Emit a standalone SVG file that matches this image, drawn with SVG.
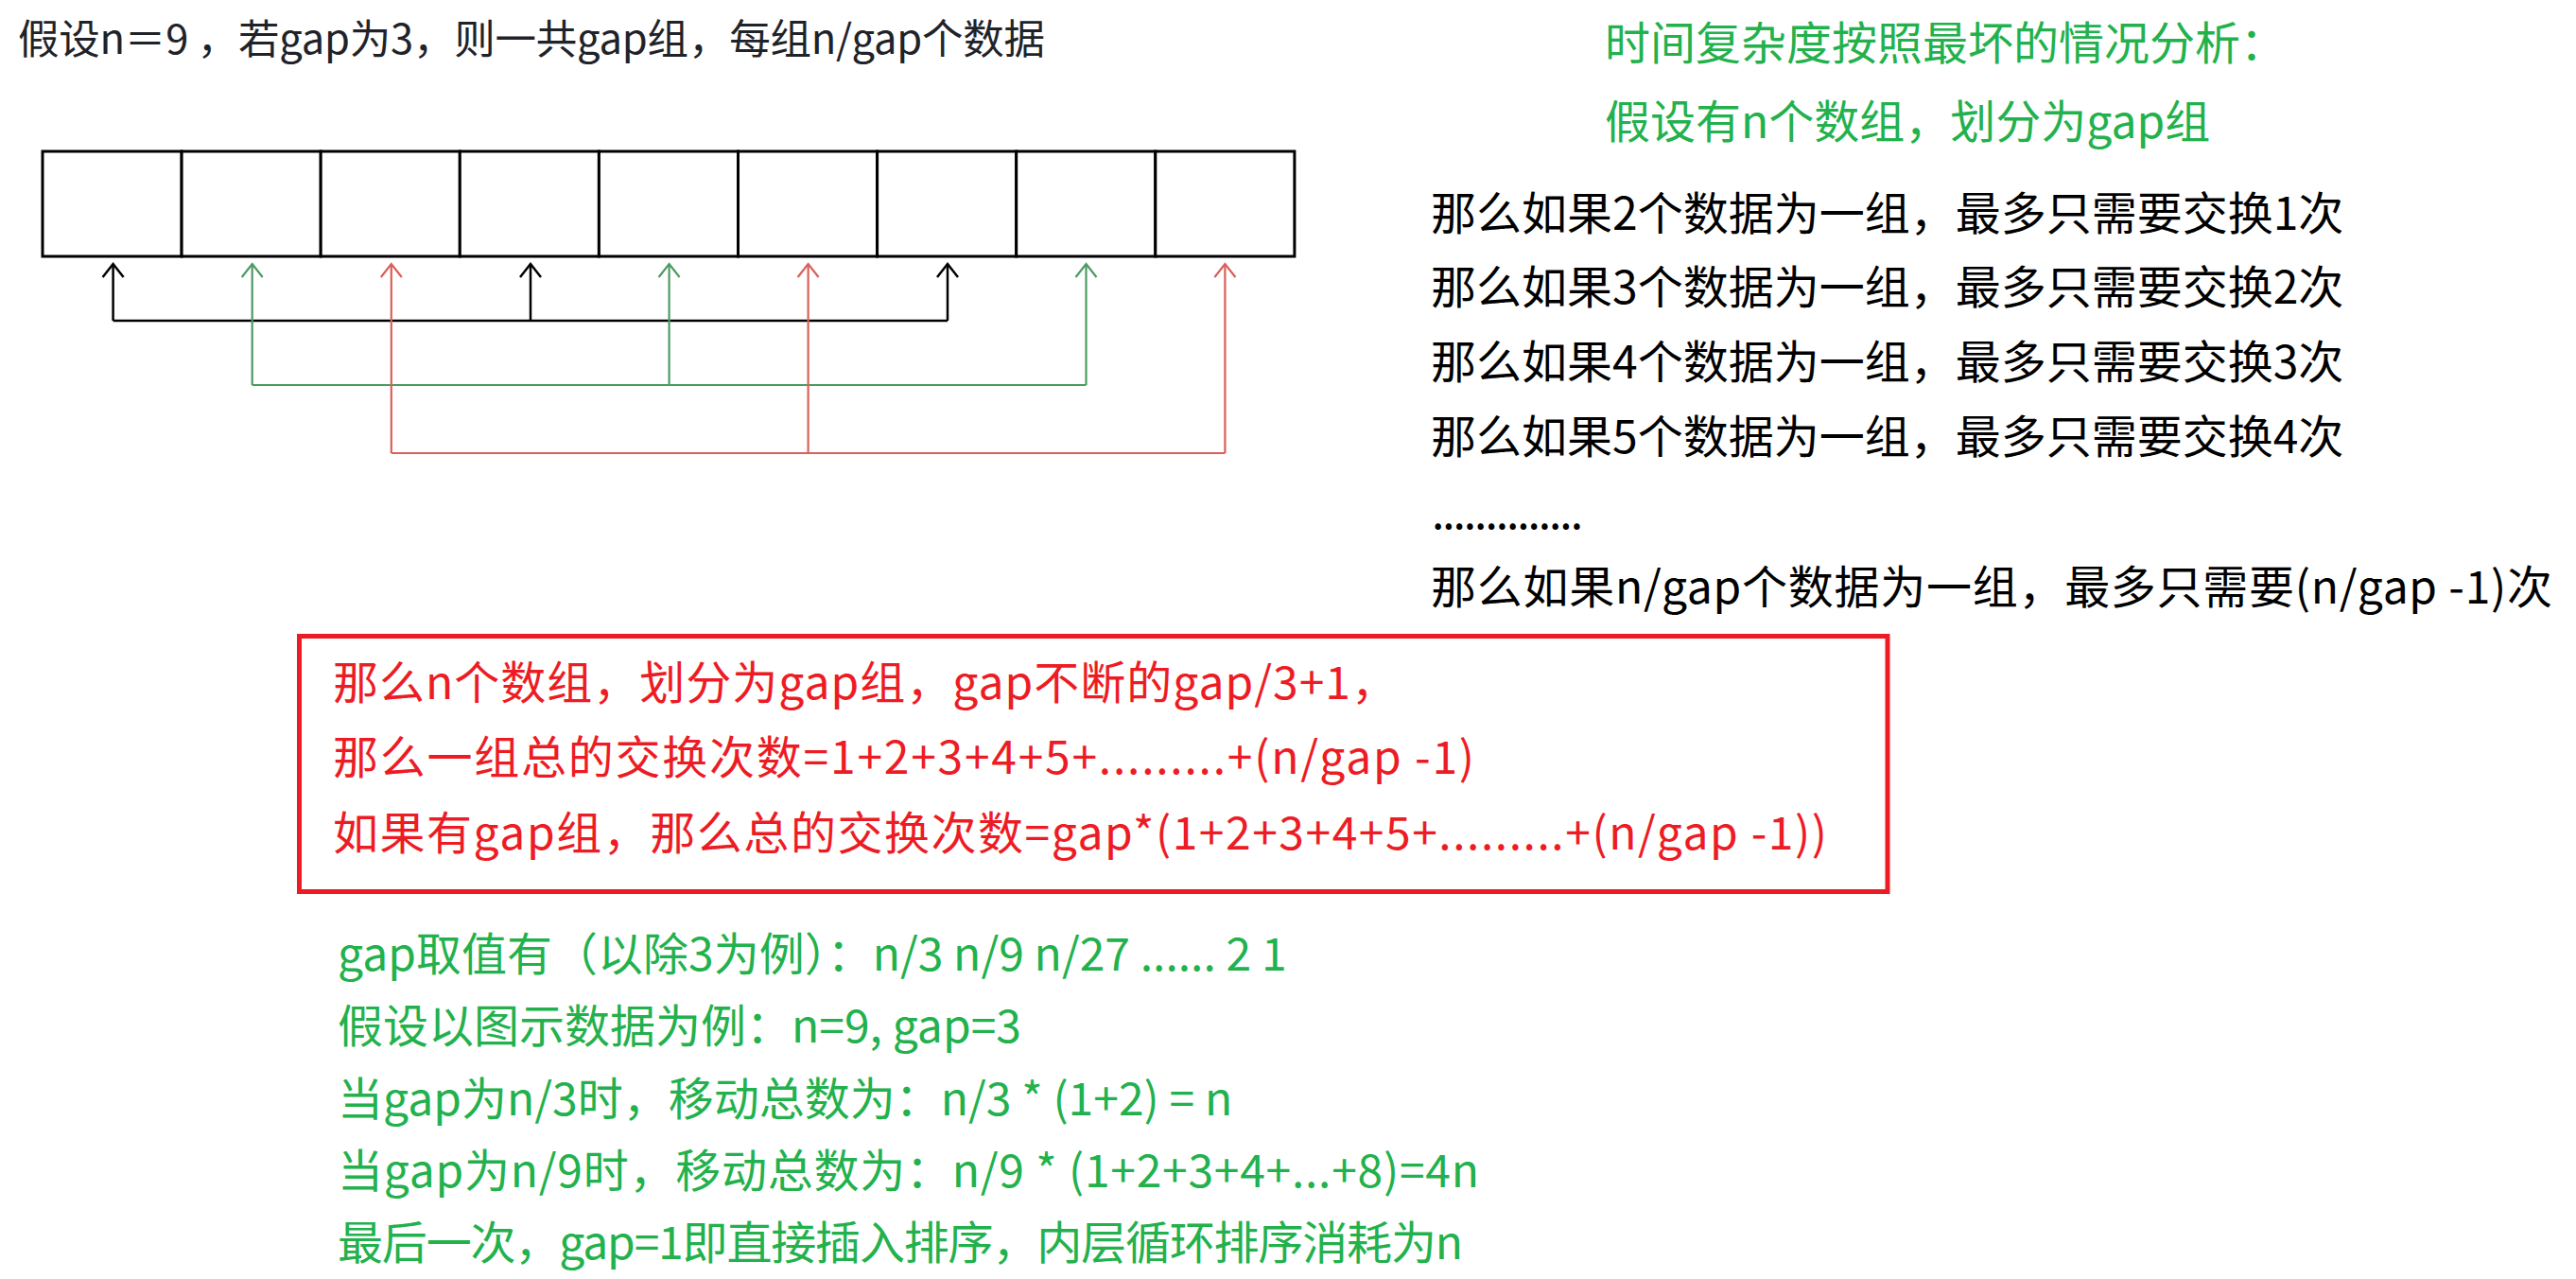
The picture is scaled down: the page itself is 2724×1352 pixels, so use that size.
<svg xmlns="http://www.w3.org/2000/svg" width="2724" height="1352" viewBox="0 0 2724 1352">
<style>
text{font-family:"Noto Sans CJK SC","Noto Sans",sans-serif;font-size:48px;white-space:pre}
.title{font-size:43.5px;fill:#1f2329}
.blk{fill:#000}
.grn{fill:#22b14c}
.red{fill:#ed1c24}
.cell{fill:#fff;stroke:#000;stroke-width:3}
.c-k{fill:none;stroke:#000;stroke-width:2.5}
.c-g{fill:none;stroke:#4d9b61;stroke-width:2.2}
.c-r{fill:none;stroke:#d9605a;stroke-width:2.2}
</style>
<defs>
<marker id="ak" markerUnits="userSpaceOnUse" markerWidth="30" markerHeight="30" refX="0" refY="0" orient="auto" overflow="visible"><path d="M-14,-11 L0,0 L-14,11" fill="none" stroke="#000" stroke-width="2.5"/></marker>
<marker id="ag" markerUnits="userSpaceOnUse" markerWidth="30" markerHeight="30" refX="0" refY="0" orient="auto" overflow="visible"><path d="M-14,-11 L0,0 L-14,11" fill="none" stroke="#4d9b61" stroke-width="2.2"/></marker>
<marker id="ar" markerUnits="userSpaceOnUse" markerWidth="30" markerHeight="30" refX="0" refY="0" orient="auto" overflow="visible"><path d="M-14,-11 L0,0 L-14,11" fill="none" stroke="#d9605a" stroke-width="2.2"/></marker>
</defs>
<rect width="2724" height="1352" fill="#fff"/>

<g id="title"><text class="title" x="19" y="57" textLength="1086">假设n＝9 ，若gap为3，则一共gap组，每组n/gap个数据</text></g>

<g id="array">
<g id="cell0"><rect class="cell" x="45" y="160" width="147.1" height="111"/></g>
<g id="cell1"><rect class="cell" x="192.1" y="160" width="147.1" height="111"/></g>
<g id="cell2"><rect class="cell" x="339.2" y="160" width="147.1" height="111"/></g>
<g id="cell3"><rect class="cell" x="486.3" y="160" width="147.1" height="111"/></g>
<g id="cell4"><rect class="cell" x="633.4" y="160" width="147.1" height="111"/></g>
<g id="cell5"><rect class="cell" x="780.5" y="160" width="147.1" height="111"/></g>
<g id="cell6"><rect class="cell" x="927.6" y="160" width="147.1" height="111"/></g>
<g id="cell7"><rect class="cell" x="1074.7" y="160" width="147.1" height="111"/></g>
<g id="cell8"><rect class="cell" x="1221.8" y="160" width="147.1" height="111"/></g>
</g>

<g id="connectors">
<path class="c-k" d="M119.6,339 H1002"/>
<path class="c-k" d="M119.6,339 V279" marker-end="url(#ak)"/>
<path class="c-k" d="M561,339 V279" marker-end="url(#ak)"/>
<path class="c-k" d="M1002,339 V279" marker-end="url(#ak)"/>
<path class="c-g" d="M266.7,407 H1148.5"/>
<path class="c-g" d="M266.7,407 V279" marker-end="url(#ag)"/>
<path class="c-g" d="M707.6,407 V279" marker-end="url(#ag)"/>
<path class="c-g" d="M1148.5,407 V279" marker-end="url(#ag)"/>
<path class="c-r" d="M413.8,479 H1295.4"/>
<path class="c-r" d="M413.8,479 V279" marker-end="url(#ar)"/>
<path class="c-r" d="M854.6,479 V279" marker-end="url(#ar)"/>
<path class="c-r" d="M1295.4,479 V279" marker-end="url(#ar)"/>
</g>

<g id="analysis-head">
<text class="grn" x="1697" y="63">时间复杂度按照最坏的情况分析：</text>
<text class="grn" x="1697" y="146">假设有n个数组，划分为gap组</text>
</g>

<g id="analysis-list">
<text class="blk" x="1513" y="243">那么如果2个数据为一组，最多只需要交换1次</text>
<text class="blk" x="1513" y="321">那么如果3个数据为一组，最多只需要交换2次</text>
<text class="blk" x="1513" y="400">那么如果4个数据为一组，最多只需要交换3次</text>
<text class="blk" x="1513" y="479">那么如果5个数据为一组，最多只需要交换4次</text>
<text class="blk" x="1514" y="559" textLength="160">..............</text>
<text class="blk" x="1513" y="638" textLength="1186">那么如果n/gap个数据为一组，最多只需要(n/gap -1)次</text>
</g>

<g id="summary-box">
<rect x="316.5" y="672.5" width="1679.5" height="270" fill="none" stroke="#ed1c24" stroke-width="5"/>
<text class="red" x="352" y="739" textLength="1125">那么n个数组，划分为gap组，gap不断的gap/3+1，</text>
<text class="red" x="352" y="818" textLength="1207">那么一组总的交换次数=1+2+3+4+5+.........+(n/gap -1)</text>
<text class="red" x="352" y="898" textLength="1580">如果有gap组，那么总的交换次数=gap*(1+2+3+4+5+.........+(n/gap -1))</text>
</g>

<g id="example">
<text class="grn" x="357" y="1026">gap取值有（以除3为例）：n/3 n/9 n/27 ...... 2 1</text>
<text class="grn" x="357" y="1102">假设以图示数据为例：n=9, gap=3</text>
<text class="grn" x="357" y="1179">当gap为n/3时，移动总数为：n/3 * (1+2) = n</text>
<text class="grn" x="357" y="1255" textLength="1207">当gap为n/9时，移动总数为：n/9 * (1+2+3+4+...+8)=4n</text>
<text class="grn" x="357" y="1331" textLength="1190">最后一次，gap=1即直接插入排序，内层循环排序消耗为n</text>
</g>
</svg>
